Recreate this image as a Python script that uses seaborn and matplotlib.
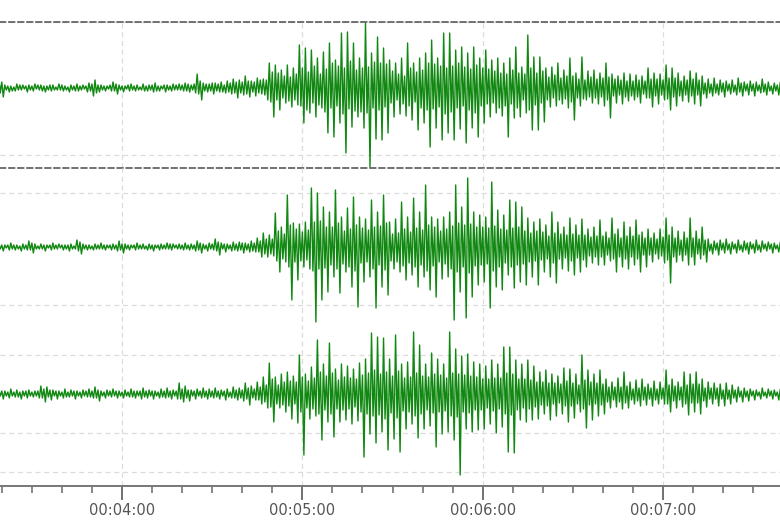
import numpy as np
import pandas as pd
import seaborn as sns
import matplotlib
matplotlib.use("Agg")
import matplotlib.pyplot as plt
from matplotlib.ticker import FuncFormatter, MultipleLocator

# ---- data: amplitude samples every 0.5 s, starting at 00:03:19 ----
START_SEC = 199
SAMPLE_SEC = 0.5

trace_1 = [
    10, -5, 6, -9, 3, -2, 2, -4, 2, -3, 1, -3, 4, -2, 3, -2, 3, -1, 2, -4,
    3, -2, 2, -3, 4, -1, 3, -2, 3, -3, 2, -4, 2, -2, 3, -3, 3, -2, 1, -2,
    4, -2, 3, -3, 2, -2, 1, -4, 3, -2, 2, -3, 4, -3, 2, -2, 3, -1, 2, -4,
    5, -3, 4, -8, 8, -5, 3, -4, 3, -2, 2, -3, 2, -1, 3, -3, 6, -3, 4, -6,
    3, -2, 2, -4, 2, -1, 3, -3, 4, -2, 2, -3, 3, -2, 1, -2, 4, -3, 2, -3,
    3, -2, 3, -4, 5, -3, 2, -3, 2, -1, 3, -4, 3, -2, 2, -3, 4, -2, 3, -2,
    4, -2, 3, -3, 5, -3, 4, -4, 3, -2, 4, -5, 14, -6, 7, -12, 5, -3, 4, -4,
    4, -3, 5, -6, 5, -3, 4, -4, 6, -4, 3, -5, 7, -4, 5, -6, 9, -5, 6, -10,
    8, -5, 6, -7, 12, -6, 7, -9, 7, -4, 6, -8, 10, -5, 8, -6, 9, -7, 8, -12,
    25, -14, 16, -29, 23, -12, 15, -22, 18, -10, 12, -15, 23, -13, 11, -19, 20, -12, 14, -17,
    43, -18, 20, -35, 40, -22, 16, -25, 38, -15, 22, -29, 30, -17, 14, -20, 36, -24, 19, -45,
    45, -20, 25, -49, 28, -18, 22, -35, 55, -26, 20, -65, 56, -21, 27, -39, 45, -23, 18, -29,
    30, -24, 20, -40, 65, -25, 21, -79, 35, -20, 26, -51, 51, -22, 25, -52, 40, -19, 24, -45,
    28, -15, 17, -29, 25, -12, 14, -26, 30, -16, 12, -28, 45, -18, 20, -32, 25, -14, 16, -42,
    30, -20, 18, -35, 35, -22, 25, -59, 48, -21, 24, -40, 30, -19, 22, -52, 55, -26, 20, -45,
    55, -24, 22, -52, 38, -20, 25, -41, 41, -18, 21, -55, 35, -22, 19, -40, 41, -25, 23, -49,
    30, -18, 20, -35, 38, -16, 19, -29, 28, -15, 17, -25, 30, -20, 15, -28, 25, -18, 14, -49,
    30, -16, 18, -30, 41, -20, 15, -29, 21, -12, 14, -25, 53, -22, 20, -42, 31, -17, 15, -42,
    31, -15, 17, -34, 20, -12, 11, -19, 21, -10, 13, -18, 25, -12, 10, -16, 18, -11, 12, -20,
    30, -14, 12, -32, 15, -10, 9, -18, 31, -11, 8, -12, 17, -9, 11, -15, 18, -10, 9, -16,
    15, -9, 10, -18, 25, -12, 11, -30, 14, -8, 9, -15, 12, -7, 8, -16, 15, -9, 7, -13,
    14, -8, 7, -12, 13, -9, 8, -15, 12, -6, 7, -10, 20, -10, 9, -19, 15, -8, 9, -16,
    14, -7, 8, -12, 23, -11, 10, -22, 20, -9, 10, -18, 15, -8, 7, -13, 12, -7, 8, -14,
    17, -8, 9, -16, 15, -7, 8, -18, 12, -6, 5, -10, 9, -5, 4, -8, 10, -5, 4, -7,
    8, -4, 5, -9, 7, -3, 4, -6, 8, -4, 3, -7, 10, -4, 5, -8, 6, -3, 4, -7,
    7, -3, 4, -8, 6, -3, 3, -5, 9, -4, 4, -7, 6, -3, 2, -6, 5, -3, 3, -7, 6,
]

trace_2 = [
    3, -2, 2, -4, 2, -1, 2, -3, 4, -2, 2, -3, 2, -2, 1, -4, 3, -2, 2, -3,
    6, -3, 4, -6, 3, -2, 1, -2, 3, -2, 2, -4, 2, -1, 2, -3, 4, -2, 2, -2,
    3, -1, 2, -3, 2, -2, 2, -4, 3, -2, 1, -2, 7, -4, 5, -7, 3, -2, 2, -3,
    2, -2, 1, -3, 3, -2, 2, -2, 4, -2, 2, -3, 2, -1, 2, -3, 3, -2, 2, -4,
    6, -3, 3, -6, 3, -2, 2, -3, 2, -1, 2, -3, 4, -2, 2, -2, 3, -2, 1, -3,
    3, -2, 2, -4, 2, -1, 2, -3, 3, -2, 2, -2, 4, -2, 3, -3, 3, -1, 2, -2,
    3, -2, 2, -3, 4, -2, 2, -3, 3, -2, 2, -4, 6, -3, 4, -6, 3, -2, 2, -4,
    4, -2, 3, -3, 8, -4, 5, -8, 4, -2, 3, -5, 3, -2, 2, -4, 5, -3, 3, -4,
    5, -3, 4, -6, 4, -3, 3, -5, 6, -4, 4, -5, 9, -5, 6, -10, 14, -7, 8, -10,
    12, -7, 8, -9, 34, -14, 16, -25, 20, -12, 13, -15, 52, -20, 22, -53, 24, -15, 18, -33,
    23, -14, 15, -20, 25, -13, 17, -22, 59, -24, 25, -75, 54, -22, 26, -53, 40, -21, 20, -45,
    35, -18, 20, -30, 57, -22, 24, -46, 30, -17, 16, -25, 39, -20, 18, -40, 50, -24, 22, -60,
    30, -16, 19, -35, 28, -15, 17, -30, 47, -22, 20, -61, 35, -18, 21, -40, 52, -23, 24, -48,
    25, -14, 13, -22, 28, -15, 14, -25, 45, -19, 18, -33, 30, -16, 15, -28, 49, -20, 19, -40,
    35, -18, 17, -30, 62, -24, 22, -43, 30, -19, 20, -50, 28, -15, 16, -32, 30, -17, 18, -30,
    35, -22, 21, -73, 62, -25, 24, -45, 40, -20, 22, -71, 69, -26, 23, -50, 35, -19, 20, -38,
    32, -18, 20, -35, 30, -17, 19, -61, 65, -24, 21, -40, 37, -20, 18, -43, 32, -16, 17, -28,
    47, -20, 19, -41, 45, -18, 20, -35, 40, -17, 16, -38, 29, -15, 14, -30, 25, -14, 16, -38,
    28, -13, 15, -25, 22, -12, 11, -30, 35, -16, 14, -36, 25, -12, 13, -22, 20, -11, 12, -24,
    29, -14, 13, -28, 22, -11, 12, -25, 28, -13, 12, -20, 18, -9, 10, -16, 20, -10, 11, -18,
    27, -10, 11, -18, 15, -8, 9, -14, 29, -12, 13, -25, 18, -10, 9, -20, 25, -12, 11, -22,
    20, -10, 11, -18, 27, -12, 12, -25, 15, -8, 9, -20, 18, -8, 9, -15, 14, -7, 8, -12,
    18, -9, 10, -16, 29, -13, 12, -36, 20, -10, 9, -15, 16, -8, 7, -14, 15, -8, 9, -18,
    29, -10, 9, -18, 16, -7, 8, -12, 20, -8, 7, -15, 8, -4, 3, -7, 6, -3, 4, -8,
    7, -3, 4, -6, 8, -3, 3, -7, 5, -2, 3, -6, 7, -3, 2, -5, 6, -3, 4, -7,
    5, -2, 3, -6, 7, -3, 2, -5, 6, -2, 3, -4, 5, -2, 3, -6, 4, -2, 2, -5, 5,
]

trace_3 = [
    4, -2, 3, -5, 3, -2, 2, -4, 5, -2, 2, -3, 4, -3, 2, -5, 3, -2, 3, -4,
    4, -2, 2, -3, 3, -2, 3, -4, 8, -4, 5, -8, 7, -3, 4, -6, 4, -2, 3, -5,
    3, -2, 2, -4, 5, -3, 2, -3, 4, -2, 3, -5, 3, -2, 2, -4, 4, -2, 3, -3,
    5, -3, 3, -4, 7, -4, 4, -7, 3, -2, 2, -4, 4, -2, 3, -3, 5, -2, 3, -4,
    3, -2, 2, -4, 4, -2, 2, -3, 5, -3, 3, -4, 3, -2, 3, -5, 6, -3, 3, -4,
    4, -2, 3, -5, 3, -2, 2, -4, 5, -3, 3, -4, 6, -3, 3, -5, 4, -2, 3, -5,
    11, -5, 5, -8, 8, -4, 4, -7, 4, -2, 3, -5, 5, -2, 3, -4, 6, -3, 3, -5,
    5, -3, 3, -4, 6, -3, 3, -5, 4, -2, 3, -6, 5, -3, 2, -4, 7, -4, 4, -6,
    6, -4, 4, -7, 11, -5, 6, -11, 8, -4, 5, -6, 12, -6, 7, -10, 17, -8, 9, -14,
    31, -13, 15, -28, 17, -10, 9, -14, 20, -11, 12, -18, 22, -12, 13, -25, 18, -10, 12, -29,
    39, -18, 17, -61, 20, -14, 13, -25, 27, -15, 16, -22, 54, -20, 22, -46, 30, -16, 18, -28,
    51, -20, 21, -43, 25, -15, 14, -28, 30, -16, 17, -26, 28, -15, 16, -30, 25, -13, 15, -27,
    31, -18, 19, -63, 35, -20, 21, -40, 61, -22, 24, -49, 57, -21, 20, -38, 56, -25, 22, -56,
    35, -19, 18, -45, 59, -24, 23, -58, 30, -17, 16, -35, 32, -18, 17, -30, 62, -22, 21, -44,
    49, -20, 18, -35, 30, -16, 17, -32, 41, -19, 20, -53, 35, -18, 19, -40, 30, -17, 16, -38,
    62, -22, 21, -46, 45, -23, 20, -81, 38, -18, 19, -35, 40, -19, 18, -38, 32, -16, 17, -36,
    30, -16, 15, -35, 28, -14, 15, -30, 34, -17, 16, -39, 30, -15, 16, -33, 47, -20, 21, -58,
    47, -21, 20, -59, 34, -16, 15, -26, 30, -14, 15, -28, 34, -15, 14, -26, 28, -13, 12, -25,
    22, -11, 12, -20, 24, -12, 11, -26, 20, -10, 11, -22, 18, -9, 10, -20, 26, -12, 13, -28,
    25, -12, 11, -24, 20, -10, 9, -18, 39, -15, 14, -34, 24, -11, 12, -26, 20, -10, 11, -22,
    24, -11, 10, -20, 15, -8, 7, -14, 12, -6, 7, -13, 16, -8, 7, -15, 22, -9, 8, -14,
    12, -6, 5, -10, 14, -7, 6, -12, 15, -6, 7, -11, 10, -5, 6, -12, 13, -6, 5, -10,
    12, -5, 6, -10, 24, -10, 9, -18, 15, -7, 8, -14, 12, -6, 7, -13, 22, -10, 9, -21,
    20, -9, 10, -18, 22, -9, 10, -20, 15, -7, 6, -13, 12, -5, 6, -10, 11, -5, 6, -12,
    10, -5, 4, -12, 11, -5, 4, -10, 9, -4, 4, -8, 7, -3, 3, -8, 6, -3, 3, -7,
    5, -2, 3, -6, 4, -2, 2, -5, 6, -2, 2, -4, 5, -2, 3, -5, 4, -2, 2, -6, 5,
]

traces = [trace_1, trace_2, trace_3]
panel_ylims = [(-80, 66), (-83, 79), (-92, 64)]
panel_grid = [[-67, 0, 66], [-58, 0, 54], [-78, -39, 0, 39]]
panel_px = [(22, 168), (168, 330), (330, 486)]   # top/bottom in pixels

X_MIN, X_MAX = 199.4, 458.9

# ---- figure ----
sns.set_theme(style="white")
plt.rcParams["font.family"] = ["DejaVu Sans"]

W, H = 780, 520
fig = plt.figure(figsize=(W / 100, H / 100), dpi=100)

def fmt_time(v, pos=None):
    v = int(round(v))
    return f"{v // 3600:02d}:{(v % 3600) // 60:02d}:{v % 60:02d}"

GREEN = "#118811"
axes = []
for k, (vals, ylim, grid, (ptop, pbot)) in enumerate(
        zip(traces, panel_ylims, panel_grid, panel_px)):
    ax = fig.add_axes([0, 1 - pbot / H, 1, (pbot - ptop) / H])
    df = pd.DataFrame({
        "t": START_SEC + np.arange(len(vals)) * SAMPLE_SEC,
        "amp": vals,
    })
    sns.lineplot(data=df, x="t", y="amp", ax=ax, color=GREEN,
                 linewidth=1.0, estimator=None, sort=False)
    ax.set_xlim(X_MIN, X_MAX)
    ax.set_ylim(*ylim)
    ax.set_xlabel("")
    ax.set_ylabel("")
    ax.set_yticks(grid)
    ax.set_yticklabels([])
    ax.tick_params(axis="y", length=0)
    ax.xaxis.set_major_locator(MultipleLocator(60))
    ax.xaxis.set_minor_locator(MultipleLocator(10))
    ax.grid(True, which="major", color="#dcdcdc", linestyle=(0, (4, 3)),
            linewidth=0.9)
    ax.set_axisbelow(True)
    ax.patch.set_alpha(0)
    for s in ("left", "right"):
        ax.spines[s].set_visible(False)
    if k == 0:
        for s in ("top", "bottom"):
            ax.spines[s].set_visible(True)
            ax.spines[s].set_linestyle((0, (3, 2)))
            ax.spines[s].set_color("#666666")
            ax.spines[s].set_linewidth(1.3)
    else:
        ax.spines["top"].set_visible(False)
    if k < 2:
        if k == 1:
            ax.spines["bottom"].set_visible(False)
        ax.tick_params(axis="x", which="both", length=0, labelbottom=False)
    else:
        ax.spines["bottom"].set_visible(True)
        ax.spines["bottom"].set_color("#777777")
        ax.spines["bottom"].set_linewidth(1.4)
        ax.xaxis.set_major_formatter(FuncFormatter(fmt_time))
        ax.tick_params(axis="x", which="major", direction="out", length=10,
                       width=1.3, color="#666666", labelsize=10.5,
                       labelcolor="#555555", pad=2, bottom=True)
        ax.tick_params(axis="x", which="minor", direction="out", length=5,
                       width=1.1, color="#666666", bottom=True)
    axes.append(ax)

fig.savefig("out.png", dpi=100)
